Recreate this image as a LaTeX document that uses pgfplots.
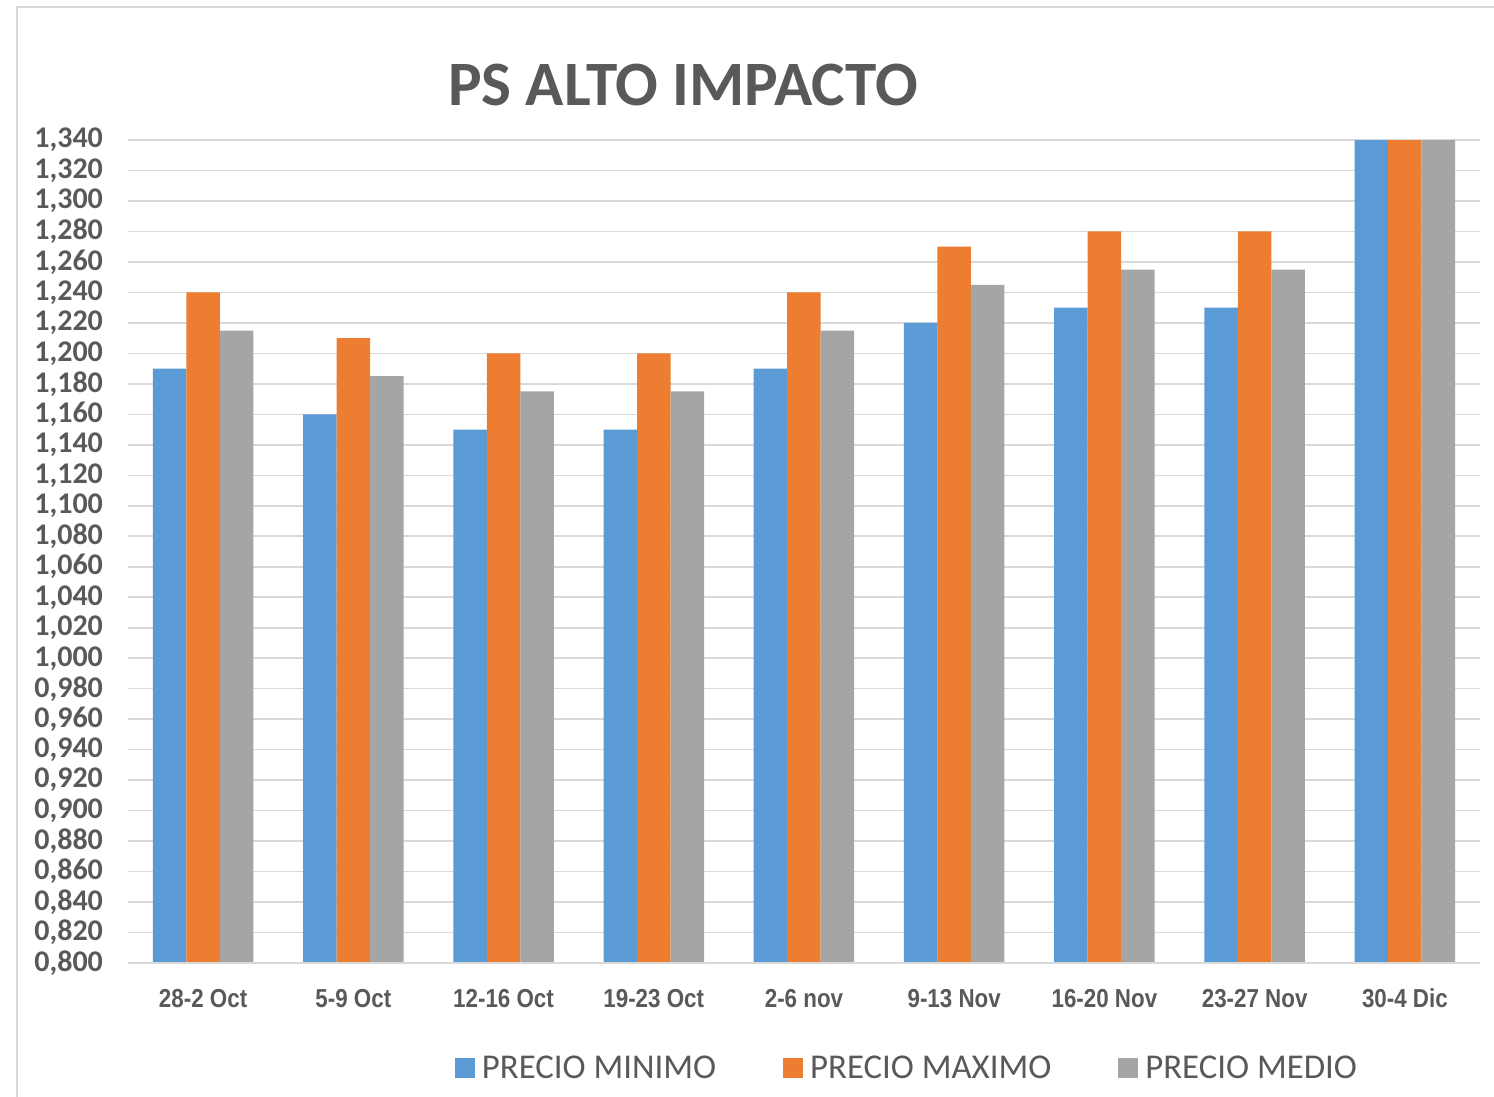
\documentclass[border=0pt]{standalone}
\usepackage{pgfplots}
\pgfplotsset{compat=1.18}
\usepackage{pgfplotstable}
\usepackage{fontspec}
\setmainfont{Carlito}
\newfontfamily\xlab[FakeStretch=0.86]{Liberation Sans}
\newfontfamily\leg{Carlito}
\definecolor{cblue}{HTML}{5B9BD5}
\definecolor{corange}{HTML}{ED7D31}
\definecolor{cgray}{HTML}{A5A5A5}
\definecolor{ctext}{HTML}{595959}
\definecolor{cgrid}{HTML}{D9D9D9}
\pgfplotstableread{
x min max med
0 1.190 1.240 1.215
1 1.160 1.210 1.185
2 1.150 1.200 1.175
3 1.150 1.200 1.175
4 1.190 1.240 1.215
5 1.220 1.270 1.245
6 1.230 1.280 1.255
7 1.230 1.280 1.255
8 1.390 1.440 1.415
}\datatable
\begin{document}
\begin{tikzpicture}[x=1pt,y=1pt]
\path[use as bounding box] (0,0) rectangle (747,-548.5);
\draw[cgrid, line width=0.8pt] (8.5,-548.5) -- (8.5,-3.5) -- (747,-3.5);
\node[font=\bfseries\fontsize{31.6}{31.6}\selectfont, text=ctext] at (341.5,-42.5) {PS ALTO IMPACTO};
\begin{axis}[
  at={(64pt,-481.5pt)}, anchor=south west,
  scale only axis, width=676pt, height=411.5pt,
  xmin=-0.5, xmax=8.5, ymin=0.8, ymax=1.34,
  axis line style={draw=none},
  axis x line*=bottom,
  major tick length=0pt,
  ymajorgrids, grid style={cgrid, line width=0.8pt},
  ytick={0.80,0.82,...,1.345},
  xtick={0,...,8},
  xticklabels={28-2 Oct,5-9 Oct,12-16 Oct,19-23 Oct,2-6 nov,9-13 Nov,16-20 Nov,23-27 Nov,30-4 Dic},
  /pgf/number format/fixed,
  /pgf/number format/fixed zerofill,
  /pgf/number format/precision=3,
  /pgf/number format/use comma,
  /pgf/number format/1000 sep={},
  /pgf/number format/assume math mode=true,
  y tick label style={font=\bfseries\fontsize{15}{15}\selectfont, text=ctext, xshift=-9pt},
  x tick label style={font=\xlab\bfseries\fontsize{13}{13}\selectfont, text=ctext, yshift=-9.5pt},
  clip=true,
  legend style={at={(0.578,-0.128)}, anchor=center, draw=none, fill=none,
    font=\leg\fontsize{17.4}{17.4}\selectfont, text=ctext,
    nodes={inner xsep=3.5pt},
    /tikz/every even column/.append style={column sep=30pt}},
  legend columns=3,
  legend image code/.code={\fill[#1] (0pt,-5pt) rectangle (10pt,5pt);},
]
\addplot[ybar, bar width=16.75pt, bar shift=-16.75pt, fill=cblue, draw=none] table[x=x,y=min]{\datatable};
\addplot[ybar, bar width=16.75pt, bar shift=0pt, fill=corange, draw=none] table[x=x,y=max]{\datatable};
\addplot[ybar, bar width=16.75pt, bar shift=16.75pt, fill=cgray, draw=none] table[x=x,y=med]{\datatable};
\draw[cgrid, line width=0.8pt] (axis cs:-0.5,0.8) -- (axis cs:8.5,0.8);
\legend{PRECIO MINIMO, PRECIO MAXIMO, PRECIO MEDIO}
\end{axis}
\end{tikzpicture}
\end{document}
